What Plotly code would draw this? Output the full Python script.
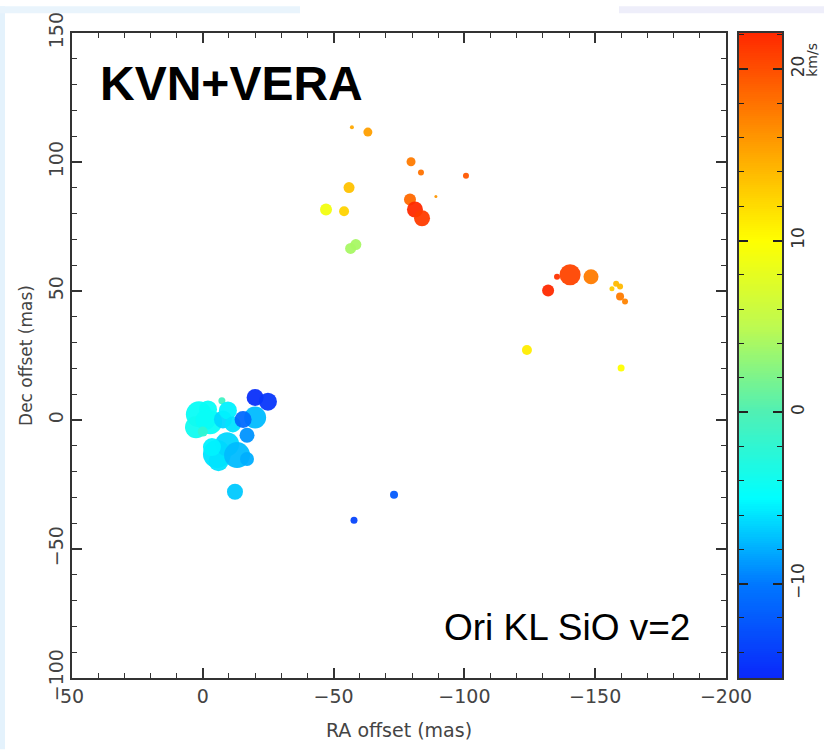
import numpy as np
import plotly.graph_objects as go

# ---- data (RA offset, Dec offset in mas; velocity in km/s; relative spot size) ----
ra_offset = [1.5, 2.6, -2.8, -2.0, -1.0, 0.0, -7.3, -7.7, -9.6, -11.5, -20.0, -15.4, -16.9,
             -20.0, -24.9, -5.4, -6.0, -9.3, -13.1, -16.9, -3.5, -12.3, -73.1, -57.8,
             -57.0, -63.1, -79.6, -83.4, -89.1, -55.9, -47.1, -54.0, -56.5, -58.5,
             -79.2, -81.1, -83.8, -100.6,
             -140.4, -135.4, -148.4, -132.0, -158.0, -156.4, -159.5, -159.5, -161.4,
             -123.9, -159.9]
dec_offset = [2.2, -2.8, -0.9, 4.1, 0.0, -4.5, 7.5, 0.2, 3.7, -1.7, 1.0, 0.2, -5.9,
              8.7, 7.1, -13.2, -16.0, -9.4, -13.6, -15.1, -10.5, -27.8, -29.0, -38.9,
              113.5, 111.6, 100.1, 95.9, 86.6, 90.1, 81.6, 80.9, 66.5, 68.0,
              85.5, 81.6, 78.2, 94.7,
              56.3, 55.5, 55.5, 50.2, 52.8, 50.9, 51.7, 47.9, 45.9,
              27.1, 20.2]
velocity = [-4.5, -4.0, -4.5, -4.5, -4.5, -2.0, -1.0, -6.5, -5.5, -6.0, -7.5, -11.0, -9.0,
            -15.0, -14.5, -6.0, -6.0, -6.5, -7.5, -8.0, -5.5, -7.0, -12.0, -13.5,
            15.0, 15.5, 17.5, 18.0, 16.0, 13.5, 9.0, 12.5, 4.0, 4.0,
            18.5, 22.0, 21.0, 19.5,
            20.5, 21.5, 17.5, 22.0, 14.0, 13.0, 14.0, 17.5, 17.0,
            11.0, 10.0]
spot_size = [26, 22, 24, 18, 20, 10, 7, 18, 18, 16, 22, 17, 15,
             17, 18, 28, 20, 24, 26, 14, 18, 16, 8, 7,
             4, 9, 9, 6, 3, 11, 12, 10, 11, 11,
             12, 16, 16, 6,
             21, 6, 15, 12, 6, 5, 6, 8, 6,
             10, 7]

x_ticks = [50, 0, -50, -100, -150, -200]
y_ticks = [150, 100, 50, 0, -50, -100]
cbar_ticks = [-10, 0, 10, 20]
vmin, vmax = -15.5, 22.1

colorscale = [
    [0.000, "rgb(10,40,250)"],
    [0.146, "rgb(0,120,255)"],
    [0.279, "rgb(0,255,255)"],
    [0.412, "rgb(80,240,180)"],
    [0.545, "rgb(190,250,80)"],
    [0.678, "rgb(255,255,0)"],
    [0.838, "rgb(255,150,0)"],
    [1.000, "rgb(255,40,0)"],
]

W, H = 824, 750
ML, MR, MT, MB = 72, 40, 27, 72          # figure margins (px)
PW = W - ML - MR                          # paper width in px
PLOT_R = 726                              # right edge of main plot (px)
CB_L, CB_R = 739, 782                     # colour bar edges (px)


def fx(xp):
    return (xp - ML) / PW


def fy(yp):
    return (H - MB - yp) / (H - MT - MB)


def lab(t):
    return str(t).replace("-", "\u2212")


fig = go.Figure()
fig.add_trace(go.Scatter(
    x=ra_offset, y=dec_offset, mode="markers",
    marker=dict(size=spot_size, color=velocity, colorscale=colorscale,
                cmin=vmin, cmax=vmax, line=dict(width=0), opacity=0.95,
                showscale=False),
    hoverinfo="skip", showlegend=False,
))

# colour bar drawn as a gradient strip on its own axes
ramp = np.linspace(vmin, vmax, 300)
fig.add_trace(go.Heatmap(
    x=[0], y=ramp, z=[[v] for v in ramp], colorscale=colorscale,
    zmin=vmin, zmax=vmax, showscale=False, hoverinfo="skip",
    xaxis="x2", yaxis="y2",
))

font_ticks = dict(family="DejaVu Sans", size=19, color="#444")
axis_common = dict(
    showgrid=False, zeroline=False, showline=True, linecolor="#333", linewidth=1.5,
    mirror="ticks", ticks="inside", ticklen=10, tickwidth=1.5, tickcolor="#333",
    tickfont=font_ticks,
    minor=dict(dtick=10, ticks="inside", ticklen=5, tickwidth=1.2, tickcolor="#333"),
)

main_dom = [0, fx(PLOT_R)]
layout = dict(
    width=W, height=H, margin=dict(l=ML, r=MR, t=MT, b=MB),
    plot_bgcolor="white", paper_bgcolor="white",
    xaxis=dict(domain=main_dom, range=[50, -200], tickmode="array", tickvals=x_ticks,
               ticktext=[lab(t) for t in x_ticks],
               title=dict(text="RA offset (mas)", standoff=18,
                          font=dict(family="DejaVu Sans", size=19, color="#444")),
               **axis_common),
    yaxis=dict(range=[-100, 150], tickmode="array", tickvals=y_ticks,
               ticktext=[lab(t) for t in y_ticks], tickangle=-90,
               title=dict(text="Dec offset (mas)", standoff=8,
                          font=dict(family="DejaVu Sans", size=17, color="#444")),
               **axis_common),
    # mirrored tick overlays (top / right) so minor ticks appear on all sides
    xaxis3=dict(overlaying="x", side="top", range=[50, -200], tickmode="array",
                tickvals=x_ticks, showticklabels=False, showgrid=False, zeroline=False,
                ticks="inside", ticklen=10, tickwidth=1.5, tickcolor="#333",
                minor=dict(dtick=10, ticks="inside", ticklen=5, tickwidth=1.2, tickcolor="#333")),
    yaxis3=dict(overlaying="y", side="right", range=[-100, 150], tickmode="array",
                tickvals=y_ticks, showticklabels=False, showgrid=False, zeroline=False,
                ticks="inside", ticklen=10, tickwidth=1.5, tickcolor="#333",
                minor=dict(dtick=10, ticks="inside", ticklen=5, tickwidth=1.2, tickcolor="#333")),
    xaxis2=dict(domain=[fx(CB_L), fx(CB_R)], anchor="y2", range=[-0.5, 0.5],
                showticklabels=False, ticks="", showgrid=False, zeroline=False,
                showline=True, mirror=True, linecolor="#333", linewidth=1.5),
    yaxis2=dict(domain=[0, 1], anchor="x2", side="right", range=[vmin, vmax],
                tickmode="array", tickvals=cbar_ticks, ticktext=[lab(t) for t in cbar_ticks],
                tickangle=-90, showgrid=False, zeroline=False,
                showline=True, mirror="ticks", linecolor="#333", linewidth=1.5,
                ticks="inside", ticklen=9, tickwidth=1.5, tickcolor="#222",
                minor=dict(dtick=2, ticks="inside", ticklen=5, tickwidth=1.2, tickcolor="#222"),
                tickfont=dict(family="DejaVu Sans", size=17, color="#333")),
)

shapes = [
    dict(type="rect", xref="paper", yref="paper", x0=fx(0), x1=fx(5),
         y0=fy(750), y1=fy(0), fillcolor="#e4f2fc", line=dict(width=0), layer="below"),
    dict(type="rect", xref="paper", yref="paper", x0=fx(0), x1=fx(300),
         y0=fy(7), y1=fy(0), fillcolor="#e9f4fc", line=dict(width=0), layer="below"),
    dict(type="rect", xref="paper", yref="paper", x0=fx(619), x1=fx(824),
         y0=fy(7), y1=fy(0), fillcolor="#eeeefa", line=dict(width=0), layer="below"),
]

annotations = [
    dict(text="<b>KVN+VERA</b>", xref="paper", yref="paper", x=fx(98), y=fy(78),
         xanchor="left", yanchor="middle", showarrow=False,
         font=dict(family="Liberation Sans, Arial", size=48, color="black")),
    dict(text="Ori KL SiO v=2", xref="paper", yref="paper", x=fx(442), y=fy(627),
         xanchor="left", yanchor="middle", showarrow=False,
         font=dict(family="Liberation Sans, Arial", size=37, color="black")),
    dict(text="km/s", xref="paper", yref="paper", x=fx(812), y=fy(54),
         xanchor="center", yanchor="middle", showarrow=False, textangle=-90,
         font=dict(family="DejaVu Sans", size=14, color="#333")),
]

fig.update_layout(shapes=shapes, annotations=annotations, **layout)

fig.write_html("out.html")
